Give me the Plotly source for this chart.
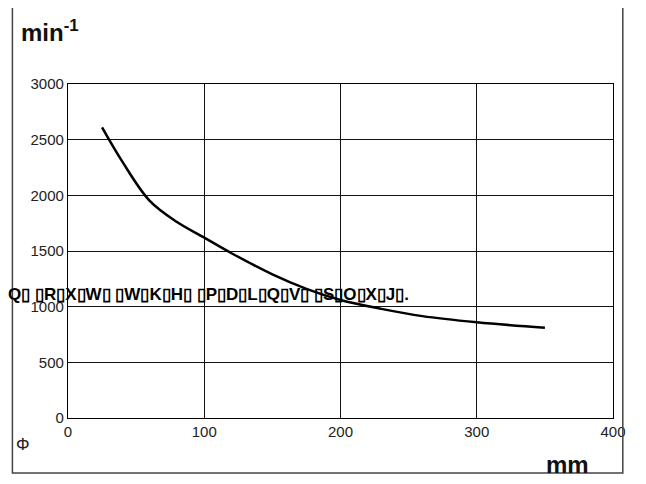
import plotly.graph_objects as go

diameter = [25, 40, 60, 80, 100, 120, 150, 175, 200, 230, 260, 300, 350]
speed = [2610, 2300, 1950, 1760, 1620, 1480, 1290, 1160, 1060, 980, 915, 860, 810]
x_ticks = [0, 100, 200, 300, 400]
y_ticks = [0, 500, 1000, 1500, 2000, 2500, 3000]
garbled = "Q\u25af \u25afR\u25afX\u25afW\u25af \u25afW\u25afK\u25afH\u25af \u25afP\u25afD\u25afL\u25afQ\u25afV\u25af \u25afS\u25afO\u25afX\u25afJ\u25af."

fig = go.Figure()
fig.add_trace(go.Scatter(x=diameter, y=speed, mode='lines', line=dict(color='black', width=2.5, shape='spline'), showlegend=False))

font = 'Liberation Sans, Arial, sans-serif'
fig.update_layout(
    width=630, height=468,
    margin=dict(l=60, r=13, t=76, b=58),
    paper_bgcolor='white', plot_bgcolor='white',
    font=dict(family=font, color='#222', size=15),
    xaxis=dict(range=[0, 400], tickvals=x_ticks, showgrid=True, gridcolor='#111', gridwidth=1.3,
               showline=True, linecolor='black', linewidth=1.3, mirror=True, zeroline=False, ticks=''),
    yaxis=dict(range=[0, 3000], tickvals=y_ticks, showgrid=True, gridcolor='#111', gridwidth=1.3,
               showline=True, linecolor='black', linewidth=1.3, mirror=True, zeroline=False, ticks=''),
    shapes=[dict(type='rect', xref='paper', yref='paper', x0=-0.102, x1=1.018, y0=-0.165, y1=1.235,
                 line=dict(color='#444', width=1.5))],
    annotations=[
        dict(text='<b>min<sup>-1</sup></b>', xref='paper', yref='paper', x=-0.09, y=1.16, xanchor='left', yanchor='middle',
             showarrow=False, font=dict(size=24, color='#111')),
        dict(text='<b>mm</b>', xref='paper', yref='paper', x=0.96, y=-0.14, xanchor='right', yanchor='middle',
             showarrow=False, font=dict(size=24, color='#111')),
        dict(text='\u03a6', xref='paper', yref='paper', x=-0.1, y=-0.08, xanchor='left', yanchor='middle',
             showarrow=False, font=dict(size=17, color='#222')),
        dict(text='<b>' + garbled + '</b>', xref='paper', yref='paper', x=-0.113, y=0.37, xanchor='left', yanchor='middle',
             showarrow=False, font=dict(size=17, color='black')),
    ],
)
fig.write_html("out.html")
